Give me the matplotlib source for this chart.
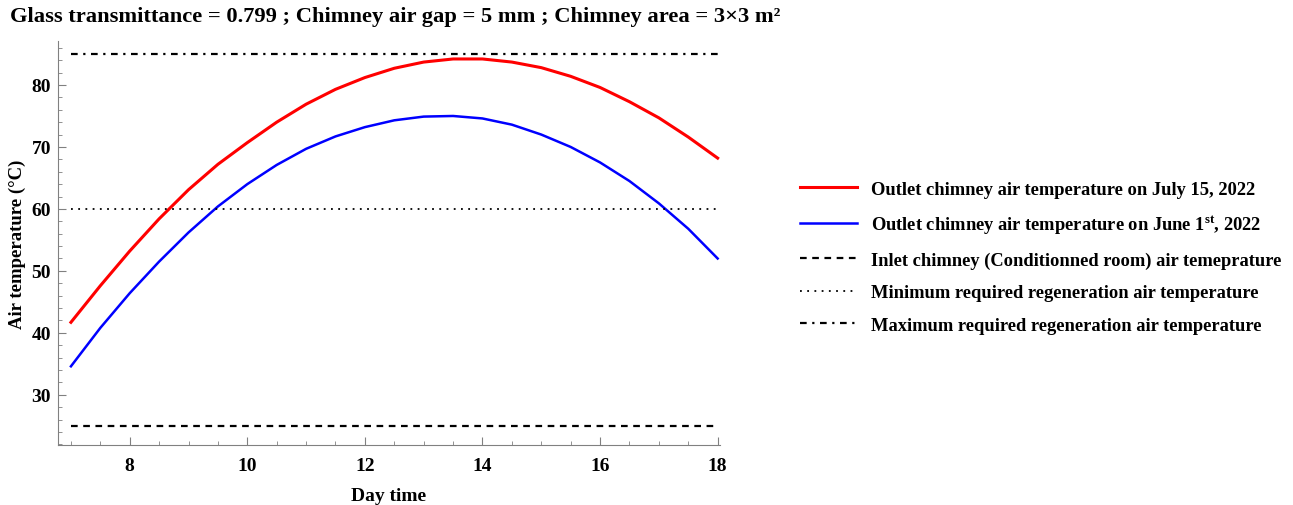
import matplotlib
matplotlib.use("Agg")
import matplotlib.pyplot as plt
from matplotlib.ticker import MultipleLocator

plt.rcParams['font.family'] = ['Liberation Serif', 'DejaVu Serif']
plt.rcParams['font.weight'] = 'bold'
plt.rcParams['mathtext.fontset'] = 'custom'
plt.rcParams['mathtext.rm'] = 'Liberation Serif:bold'

hours = [7, 7.5, 8, 8.5, 9, 9.5, 10, 10.5, 11, 11.5, 12, 12.5,
         13, 13.5, 14, 14.5, 15, 15.5, 16, 16.5, 17, 17.5, 18]
july_temp = [41.7, 47.6, 53.2, 58.4, 63.1, 67.2, 70.7, 74.0, 76.9, 79.3, 81.2, 82.7,
             83.7, 84.2, 84.2, 83.7, 82.8, 81.4, 79.6, 77.3, 74.7, 71.6, 68.2]
june_temp = [34.6, 40.8, 46.4, 51.5, 56.2, 60.4, 64.0, 67.1, 69.7, 71.7, 73.2, 74.3,
             74.9, 75.0, 74.6, 73.6, 72.0, 70.0, 67.5, 64.5, 60.9, 56.8, 52.0]
inlet_temp = 25
min_regen = 60
max_regen = 85

labels = [
    "Outlet chimney air temperature on July 15, 2022",
    "Outlet chimney air temperature on June 1$^{\\rm st}$, 2022",
    "Inlet chimney (Conditionned room) air temeprature",
    "Minimum required regeneration air temperature",
    "Maximum required regeneration air temperature",
]

fig = plt.figure(figsize=(12.93, 5.06), dpi=100)
ax = fig.add_axes([58 / 1293, 60 / 506, 662 / 1293, 404 / 506])

span = [hours[0], hours[-1]]
ax.plot(hours, july_temp, color="red", lw=2.2, label=labels[0])
ax.plot(hours, june_temp, color="blue", lw=1.8, label=labels[1])
ax.plot(span, [inlet_temp] * 2, color="black", lw=1.6, ls=(0, (3, 2.5)), label=labels[2])
ax.plot(span, [min_regen] * 2, color="black", lw=1.3, ls=(0, (1, 3)), label=labels[3])
ax.plot(span, [max_regen] * 2, color="black", lw=1.6, ls=(0, (3, 2.5, 1, 2.5)), label=labels[4])

ax.set_xlim(6.78, 18.04)
ax.set_ylim(21.9, 87.1)
ax.xaxis.set_major_locator(MultipleLocator(2))
ax.xaxis.set_minor_locator(MultipleLocator(0.5))
ax.yaxis.set_major_locator(MultipleLocator(10))
ax.yaxis.set_minor_locator(MultipleLocator(2))
for side in ("top", "right"):
    ax.spines[side].set_visible(False)
for side in ("left", "bottom"):
    ax.spines[side].set_color("#808080")
ax.tick_params(which="major", direction="in", length=6, color="#808080",
               labelsize=14)
ax.tick_params(axis="y", which="major", pad=5)
ax.tick_params(axis="x", which="major", pad=9)
ax.tick_params(which="minor", direction="in", length=3, color="#808080")

ax.set_xlabel("Day time", fontsize=14, fontweight="bold", labelpad=9)
ax.set_ylabel("Air temperature (°C)", fontsize=13.5, fontweight="bold")
ax.yaxis.set_label_coords(-32 / 662, 0.5)

fig.text(10 / 1293, 1 - 17 / 506,
         "Glass transmittance = 0.799 ; Chimney air gap = 5 mm ; Chimney area = 3×3 m²",
         fontsize=16.2, fontweight="bold", va="center", ha="left")

fig.legend(loc="upper left", bbox_to_anchor=(783 / 1293, 1 - 165 / 506),
           frameon=False, handlelength=3.1, handletextpad=0.75,
           labelspacing=0.84, prop={"weight": "bold", "size": 13.3})

plt.savefig("out.png", dpi=100)
plt.close(fig)
